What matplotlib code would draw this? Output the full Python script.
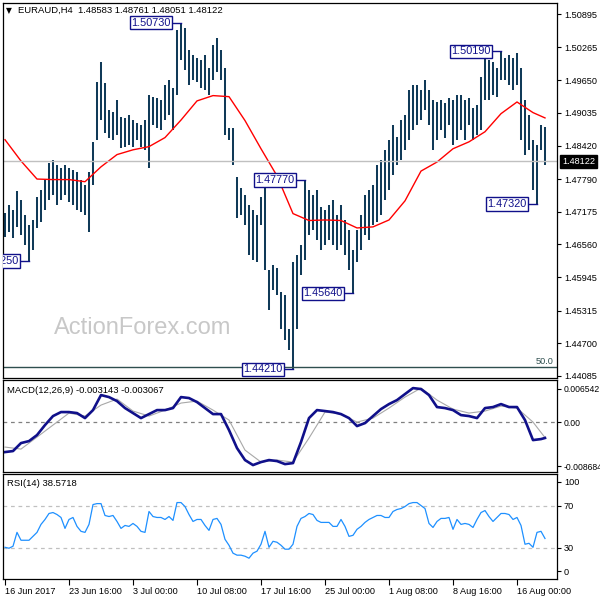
import matplotlib.pyplot as plt
import matplotlib.transforms as mtrans
import numpy as np

plt.rcParams['font.family'] = ['Liberation Sans', 'DejaVu Sans']

# ---- data: EURAUD H4, 16 Jun - 18 Aug 2017 (one entry per two H4 bars)
highs = [1.4716, 1.4731, 1.4721, 1.4757, 1.4740, 1.4712, 1.4693, 1.4702, 1.4746, 1.4759,
         1.4778, 1.4810, 1.4815, 1.4806, 1.4800, 1.4806, 1.4800, 1.4796, 1.4793, 1.4778,
         1.4768, 1.4793, 1.4849, 1.4962, 1.5000, 1.4960, 1.4909, 1.4905, 1.4928, 1.4896,
         1.4894, 1.4900, 1.4890, 1.4885, 1.4881, 1.4890, 1.4937, 1.4934, 1.4932, 1.4928,
         1.4956, 1.4966, 1.4951, 1.5060, 1.5073, 1.5063, 1.5022, 1.5013, 1.5007, 1.5003,
         1.5013, 1.4988, 1.5031, 1.5045, 1.5022, 1.4988, 1.4875, 1.4875, 1.4783, 1.4763,
         1.4749, 1.4731, 1.4721, 1.4712, 1.4746, 1.4768, 1.4608, 1.4618, 1.4612, 1.4567,
         1.4561, 1.4496, 1.4623, 1.4637, 1.4655, 1.4777, 1.4759, 1.4749, 1.4759, 1.4727,
         1.4721, 1.4731, 1.4740, 1.4712, 1.4731, 1.4702, 1.4684, 1.4646, 1.4684, 1.4712,
         1.4749, 1.4759, 1.4768, 1.4806, 1.4815, 1.4834, 1.4853, 1.4881, 1.4858, 1.4890,
         1.4900, 1.4947, 1.4956, 1.4956, 1.4947, 1.4966, 1.4947, 1.4928, 1.4924, 1.4928,
         1.4922, 1.4932, 1.4928, 1.4937, 1.4937, 1.4928, 1.4932, 1.4913, 1.4919, 1.4971,
         1.5013, 1.5003, 1.5000, 1.4988, 1.5019, 1.5007, 1.5013, 1.5007, 1.5016, 1.4988,
         1.4928, 1.4900, 1.4853, 1.4843, 1.4881, 1.4876]
lows = [1.4670, 1.4680, 1.4669, 1.4689, 1.4674, 1.4655, 1.4625, 1.4646, 1.4687, 1.4699,
        1.4721, 1.4740, 1.4749, 1.4731, 1.4740, 1.4749, 1.4736, 1.4731, 1.4721, 1.4717,
        1.4712, 1.4680, 1.4768, 1.4853, 1.4890, 1.4866, 1.4857, 1.4853, 1.4862, 1.4838,
        1.4840, 1.4843, 1.4840, 1.4853, 1.4840, 1.4834, 1.4800, 1.4881, 1.4875, 1.4872,
        1.4890, 1.4900, 1.4872, 1.4937, 1.5003, 1.4984, 1.4956, 1.4966, 1.4962, 1.4951,
        1.4947, 1.4937, 1.4966, 1.4981, 1.4966, 1.4862, 1.4853, 1.4806, 1.4706, 1.4712,
        1.4693, 1.4637, 1.4627, 1.4623, 1.4693, 1.4608, 1.4533, 1.4571, 1.4561, 1.4496,
        1.4477, 1.4458, 1.4421, 1.4496, 1.4599, 1.4627, 1.4674, 1.4684, 1.4665, 1.4646,
        1.4655, 1.4665, 1.4655, 1.4646, 1.4655, 1.4637, 1.4608, 1.4564, 1.4623, 1.4646,
        1.4674, 1.4665, 1.4693, 1.4699, 1.4712, 1.4740, 1.4759, 1.4787, 1.4806, 1.4815,
        1.4834, 1.4853, 1.4872, 1.4881, 1.4890, 1.4909, 1.4881, 1.4834, 1.4853, 1.4872,
        1.4857, 1.4881, 1.4843, 1.4853, 1.4872, 1.4853, 1.4881, 1.4853, 1.4862, 1.4872,
        1.4928, 1.4928, 1.4937, 1.4934, 1.4966, 1.4966, 1.4956, 1.4947, 1.4956, 1.4853,
        1.4825, 1.4834, 1.4759, 1.4732, 1.4834, 1.4805]

ma_bar = list(range(0, 133, 4)) + [135]
ma_vals = [1.4853, 1.4813, 1.4779, 1.4778, 1.4778, 1.4774, 1.4802, 1.4825, 1.4834, 1.4840,
           1.4857, 1.4890, 1.4926, 1.4936, 1.4934, 1.4889, 1.4836, 1.4785, 1.4714, 1.4701,
           1.4702, 1.4701, 1.4687, 1.4689, 1.4702, 1.4738, 1.4794, 1.4811, 1.4836, 1.4849,
           1.4868, 1.4902, 1.4924, 1.4904, 1.4894]

macd_bar = list(range(0, 135, 2)) + [135]
macd_vals = [-0.00593, -0.00573, -0.00415, -0.00376, -0.00257, -0.00059, 0.00119, 0.00198, 0.00198, 0.00178,
             0.00079, 0.00237, 0.00534, 0.00494, 0.00415, 0.00277, 0.00178, 0.00079, 0.00158, 0.00237,
             0.00237, 0.00277, 0.00494, 0.00475, 0.00395, 0.00277, 0.00158, 0.00158, -0.00158, -0.00514,
             -0.00751, -0.00850, -0.00791, -0.00751, -0.00771, -0.00831, -0.00811, -0.00395, 0.00079, 0.00237,
             0.00218, 0.00198, 0.00158, 0.00079, -0.00079, -0.00020, 0.00119, 0.00257, 0.00356, 0.00435,
             0.00554, 0.00672, 0.00653, 0.00534, 0.00297, 0.00277, 0.00237, 0.00138, 0.00119, 0.00079,
             0.00277, 0.00297, 0.00356, 0.00297, 0.00297, 0.00040, -0.00356, -0.00336, -0.003143]
sig_bar = ma_bar
sig_vals = [-0.00494, -0.00534, -0.00297, -0.00059, 0.00178, 0.00119, 0.00336, 0.00455, 0.00218, 0.00119,
            0.00237, 0.00376, 0.00415, 0.00237, 0.00040, -0.00554, -0.00791, -0.00751, -0.00791, -0.00316,
            0.00198, 0.00158, 0.0, 0.00079, 0.00277, 0.00494, 0.00672, 0.00435, 0.00257, 0.00178,
            0.00218, 0.00316, 0.00277, 0.0, -0.003067]

rsi_vals = [30.2, 29.3, 31.2, 44.4, 36.9, 36.9, 36.9, 40.6, 44.4, 52.0,
            56.7, 62.4, 63.3, 61.4, 58.6, 48.2, 56.7, 58.6, 50.1, 45.4,
            44.4, 52.0, 70.9, 71.8, 71.8, 60.5, 59.5, 60.5, 54.8, 48.2,
            51.0, 50.1, 52.9, 50.1, 45.4, 44.4, 64.3, 59.5, 58.6, 58.6,
            56.7, 59.5, 55.8, 72.8, 72.8, 69.0, 61.4, 54.8, 56.7, 56.7,
            51.0, 46.3, 56.7, 57.7, 52.0, 37.8, 32.1, 24.6, 22.7, 22.7,
            21.7, 19.8, 24.6, 26.5, 33.1, 45.4, 30.2, 35.9, 35.0, 32.1,
            28.4, 28.4, 33.1, 50.1, 57.7, 59.5, 62.4, 61.4, 55.8, 53.9,
            53.9, 53.9, 50.1, 50.1, 56.7, 50.1, 40.6, 41.6, 47.3, 50.1,
            53.9, 56.7, 58.6, 60.5, 60.5, 58.6, 58.6, 64.3, 66.2, 67.1,
            69.0, 71.8, 72.8, 72.8, 69.9, 67.1, 52.9, 49.1, 54.8, 57.7,
            57.7, 58.6, 47.3, 56.7, 52.0, 52.9, 52.0, 49.1, 56.7, 63.3,
            65.2, 59.5, 54.8, 58.6, 62.4, 62.4, 61.4, 56.7, 58.6, 51.0,
            33.1, 34.0, 30.2, 44.4, 45.4, 38.57]

date_bar = [0, 16, 32, 48, 64, 80, 96, 112, 128]
date_labels = ['16 Jun 2017', '23 Jun 16:00', '3 Jul 00:00', '10 Jul 08:00', '17 Jul 16:00',
               '25 Jul 00:00', '1 Aug 08:00', '8 Aug 16:00', '16 Aug 00:00']
price_ticks = [1.50895, 1.50265, 1.49650, 1.49035, 1.48420, 1.47790,
               1.47175, 1.46560, 1.45945, 1.45315, 1.44700, 1.44085]

mark_bar = [6, 44, 75, 72, 87, 124, 133]
mark_price = [1.46250, 1.50730, 1.47770, 1.44210, 1.45640, 1.50190, 1.47320]
last_price = 1.48122
fib_level = 1.4425

# ---- layout
bar_col = '#103a58'
navy = '#10108a'
fs = 6.6
bars = np.arange(len(highs))

fig = plt.figure(figsize=(6, 6), dpi=100)
ax = fig.add_axes([3/600, 1-378/600, 554/600, 375/600])
ax_m = fig.add_axes([3/600, 1-472/600, 554/600, 92/600])
ax_r = fig.add_axes([3/600, 1-579/600, 554/600, 105/600])

for a in (ax, ax_m, ax_r):
    a.set_xlim(-0.5, 138)
    for s in a.spines.values():
        s.set_linewidth(0.9)
        s.set_color('black')
    a.yaxis.tick_right()
    a.tick_params(axis='y', direction='out', length=3, width=0.8, labelsize=fs, pad=2,
                  right=True, left=False)
    a.tick_params(axis='x', bottom=False, labelbottom=False)

# main price panel
ax.set_ylim(1.44047, 1.51102)
ax.vlines(bars, lows, highs, color=bar_col, lw=1.45)
ax.plot(ma_bar, ma_vals, color='red', lw=1.0)
ax.axhline(last_price, color='#c0c0c0', lw=1)
ax.axhline(fib_level, color='#2f4f4f', lw=1)
ax.text(0.993, fib_level + 0.0003, '50.0', transform=mtrans.blended_transform_factory(ax.transAxes, ax.transData),
        ha='right', va='bottom', fontsize=fs, color='#2f4f4f')
ax.set_yticks(price_ticks)
ax.set_yticklabels(['%.5f' % p for p in price_ticks])

for b, p in zip(mark_bar, mark_price):
    ax.plot([b - 2.5, b], [p, p], color=navy, lw=1)
    ax.text(b - 2.6, p, '%.5f' % p, ha='right', va='center', fontsize=7.8, color=navy,
            bbox=dict(boxstyle='square,pad=0.15', fc='white', ec=navy, lw=1), clip_on=True)

ax.text(1.009, last_price, '%.5f' % last_price,
        transform=mtrans.blended_transform_factory(ax.transAxes, ax.transData),
        ha='left', va='center', fontsize=fs, color='white',
        bbox=dict(boxstyle='square,pad=0.25', fc='black', ec='black'))

ax.text(0.252, 0.133, 'ActionForex.com', transform=ax.transAxes, ha='center', va='center',
        fontsize=17, color='#c8c8c8')
ax.text(0.006, 0.981, '\u25bc', transform=ax.transAxes, ha='left', va='center', fontsize=5.5,
        family='DejaVu Sans')
ax.text(0.027, 0.981, 'EURAUD,H4  1.48583 1.48761 1.48051 1.48122', transform=ax.transAxes,
        ha='left', va='center', fontsize=6.8)

# MACD panel
ax_m.set_ylim(-0.00987, 0.00832)
ax_m.axhline(0, color='#808080', lw=0.9, ls=(0, (3, 3)))
ax_m.plot(sig_bar, sig_vals, color='#a8a8a8', lw=0.8)
ax_m.plot(macd_bar, macd_vals, color=navy, lw=1.9)
ax_m.set_yticks([0.006542, 0.0, -0.008684])
ax_m.set_yticklabels(['0.006542', '0.00', '-0.008684'])
ax_m.tick_params(axis='y', labelsize=6.2, pad=1.5)
ax_m.text(0.008, 0.89, 'MACD(12,26,9) -0.003143 -0.003067', transform=ax_m.transAxes,
          ha='left', va='center', fontsize=6.8)

# RSI panel
ax_r.set_ylim(0, 100)
for lvl in (30, 70):
    ax_r.axhline(lvl, color='#c0c0c0', lw=0.9, ls=(0, (3, 3)))
ax_r.plot(bars, rsi_vals, color='#1e90ff', lw=0.9)
ax_r.set_yticks([7.5, 30, 70, 92.5])
ax_r.set_yticklabels(['0', '30', '70', '100'])
ax_r.text(0.008, 0.905, 'RSI(14) 38.5718', transform=ax_r.transAxes,
          ha='left', va='center', fontsize=6.8)
ax_r.tick_params(axis='x', bottom=True, labelbottom=True, direction='out', length=4,
                 width=0.8, labelsize=fs, pad=2)
ax_r.set_xticks(date_bar)
ax_r.set_xticklabels(date_labels)
for lab in ax_r.get_xticklabels():
    lab.set_ha('left')

plt.savefig('out.png', dpi=100)
